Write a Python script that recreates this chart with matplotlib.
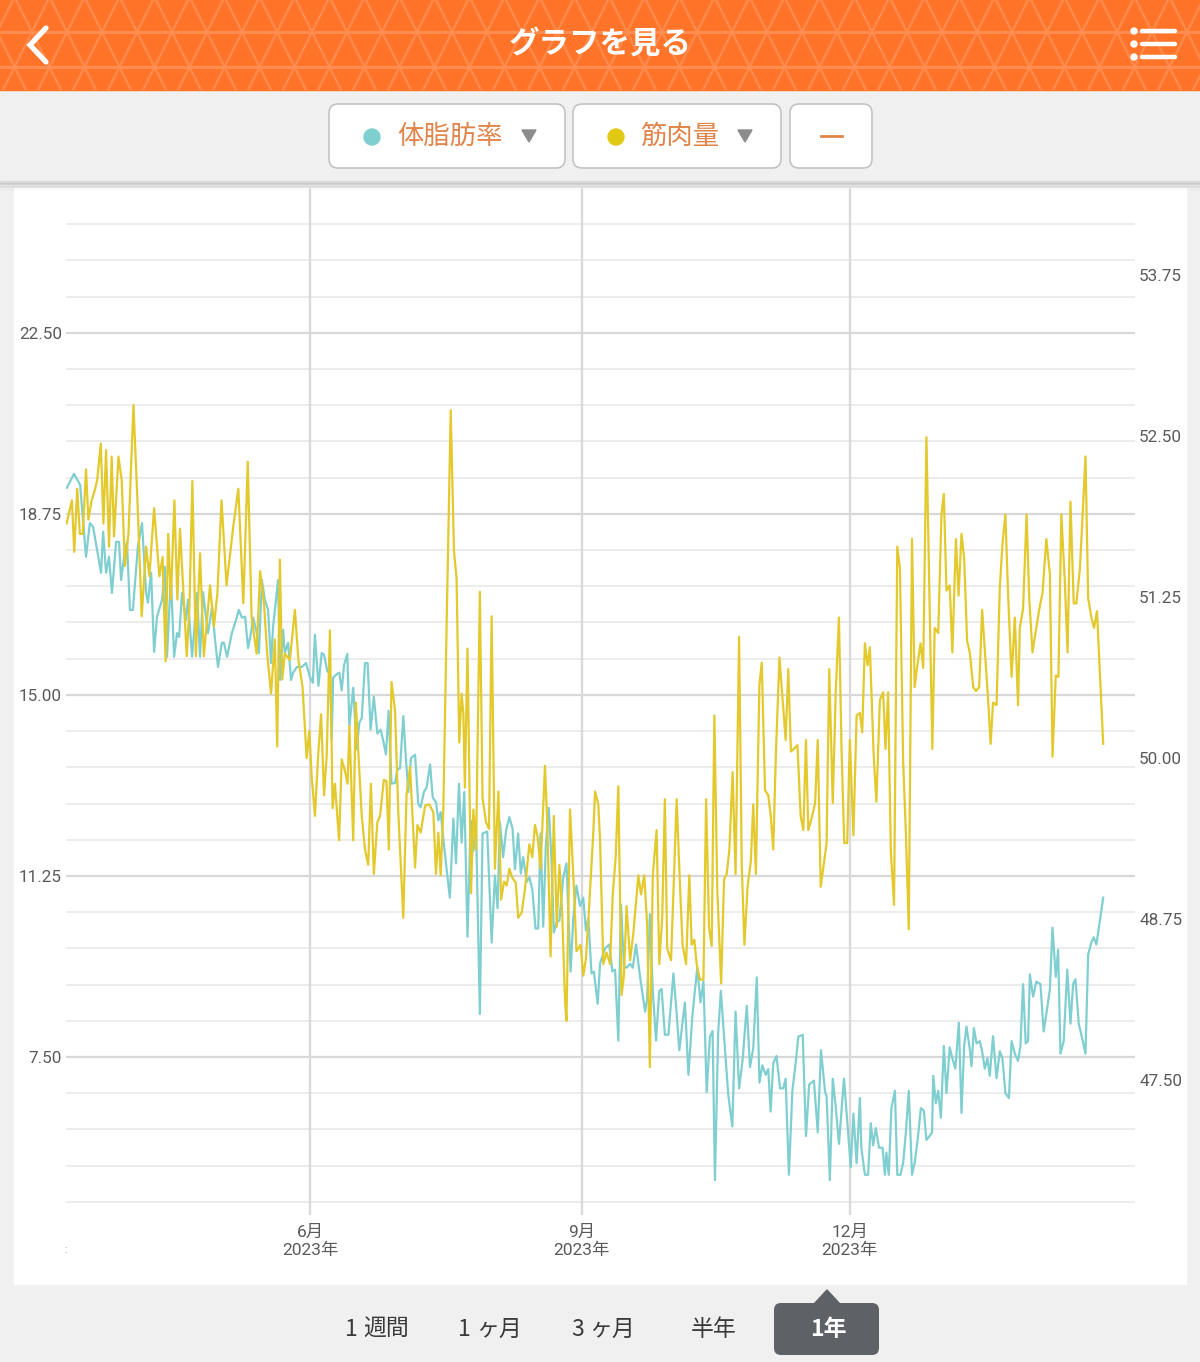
import datetime as dt
import numpy as np
import matplotlib
matplotlib.use('Agg')
import matplotlib.pyplot as plt
import matplotlib.dates as mdates
from matplotlib.patches import FancyBboxPatch, Rectangle, Polygon, Circle

plt.rcParams['font.family'] = ['Roboto', 'Noto Sans CJK JP', 'DejaVu Sans']

# data (days counted from 2023-03-10)
START = dt.datetime(2023, 3, 10)

fat_days = [
    0.3, 2.7, 4.8, 6.8, 8.1, 9.2, 11.9, 12.6, 13.6, 14.6, 15.6, 17.0, 18.0, 18.7, 19.7, 20.7,
    21.7, 22.7, 24.4, 25.8, 27.2, 27.8, 28.9, 29.9, 30.9, 32.6, 33.6, 34.3, 35.6, 36.7, 37.7,
    38.4, 39.4, 40.7, 41.4, 42.8, 44.5, 45.5, 46.5, 48.2, 49.6, 50.6, 51.6, 52.9, 53.6, 54.7,
    56.3, 57.7, 58.7, 59.7, 60.8, 61.8, 62.8, 63.5, 64.8, 65.5, 66.5, 67.5, 68.6, 69.6, 70.3,
    72.0, 72.7, 73.7, 74.3, 75.4, 76.4, 77.1, 78.4, 80.1, 81.5, 82.8, 83.8,
    84.5, 85.7, 86.8, 87.6, 88.7, 89.6, 90.2, 90.7, 91.9, 92.8, 93.6, 94.4, 95.5, 96.2, 97.5,
    98.7, 99.6, 100.4, 101.5, 102.4, 103.4, 104.5, 105.7, 106.8, 107.7, 108.6, 109.5, 110.5,
    111.7, 112.5, 113.4, 114.5, 115.4, 116.2, 117.1, 118.5, 119.6, 120.4, 121.5, 122.4, 123.6,
    124.5, 125.6, 126.4, 127.2, 128.1, 129.2, 130.3, 131.5, 132.4, 133.4, 134.3, 135.2, 136.3,
    137.4, 138.3, 139.2, 140.5, 141.4, 143.0, 144.5, 145.6, 146.5, 147.3, 148.4, 149.4, 150.5,
    151.6, 152.4, 153.5, 154.4, 155.2, 156.4, 157.3, 158.3, 159.4, 160.3, 161.1, 162.0, 162.9,
    163.9, 164.9, 165.6, 166.6, 167.5, 168.8, 169.9, 171.3, 172.2, 173.3, 174.5, 175.6, 176.5,
    177.3, 178.4, 179.2, 180.5, 181.3,
    183.0, 184.4, 185.5, 186.4, 187.5, 188.4, 189.4, 190.3, 191.5, 192.4, 193.5, 194.9, 196.6,
    197.3, 198.2, 199.2, 200.3, 201.4, 202.2, 203.3, 204.5, 206.2, 207.1, 208.2, 210.1, 211.3,
    212.7, 214.3, 215.4, 216.4, 217.5, 218.6, 219.5, 220.3, 221.4, 222.3, 223.7, 224.8, 226.2,
    227.3, 228.5, 229.7, 231.1, 232.2, 233.3, 234.5, 235.4, 236.4, 237.5, 238.4, 239.2, 240.1,
    241.2, 242.4, 243.5, 244.3, 245.4, 246.6, 247.7, 248.6, 250.1, 251.2, 252.3, 253.9, 255.2,
    256.3, 257.7, 258.2, 259.3, 260.3, 261.4, 262.4, 264.1, 265.2, 266.4, 267.3, 268.4, 269.5,
    270.0, 271.2, 272.3, 273.2, 274.0, 274.9, 276.0, 277.2, 278.0, 278.5, 279.3, 280.2, 281.4,
    282.2, 283.3, 284.2, 285.1, 286.1, 287.2, 288.1, 289.1, 290.2, 291.2, 292.1, 294.0, 294.4,
    295.3, 296.1, 297.0, 298.0, 298.9, 300.0, 300.9, 301.9, 303.1, 304.0, 304.9, 305.7, 306.8,
    307.4, 308.2, 309.1, 310.2, 311.0, 311.9, 312.8, 313.6, 314.7, 315.9, 317.0, 317.9, 318.9,
    320.1, 321.0, 322.1, 323.2, 324.0, 324.9, 325.8, 326.6, 327.2, 328.3, 329.4, 330.8, 331.9,
    332.8, 334.0, 334.9, 336.0, 336.8, 337.6, 338.7, 339.9, 341.0, 341.9, 342.7, 343.8, 345.0,
    346.1, 347.0, 348.1, 348.9, 349.8, 351.0, 352.1,
]
fat = [
    19.29, 19.58, 19.35, 17.86, 18.56, 18.48, 17.53, 18.38, 17.53, 17.86, 17.11, 18.17, 18.17,
    17.38, 17.86, 18.17, 16.76, 16.76, 18.07, 18.56, 17.11, 16.91, 17.53, 15.89, 16.62, 16.97,
    17.65, 15.79, 17.45, 15.79, 16.28, 16.20, 17.11, 16.55, 16.97, 15.79, 17.11, 15.79, 17.13,
    16.28, 16.82, 16.14, 15.58, 16.08, 16.08, 15.79, 16.28, 16.55, 16.76, 16.60, 16.62, 15.97,
    16.28, 16.60, 16.28, 15.87, 17.38, 16.97, 16.76, 15.66, 16.41, 17.38, 15.31, 16.35, 15.87,
    16.08, 15.31, 15.46, 15.58, 15.58, 15.66, 15.37, 15.25,
    16.25, 15.19, 15.87, 15.83, 15.49, 15.45, 14.09, 15.36, 15.43, 15.46, 15.09, 15.62, 15.85,
    14.35, 15.15, 13.88, 14.43, 14.52, 15.66, 15.66, 14.28, 14.96, 14.20, 14.28, 14.05, 13.77,
    14.67, 13.16, 13.18, 13.46, 13.48, 14.56, 13.67, 12.99, 13.69, 13.76, 12.74, 12.67, 12.99,
    13.08, 13.56, 12.87, 12.78, 12.40, 12.57, 12.02, 11.39, 10.80, 12.44, 11.51, 13.16, 11.94,
    12.99, 9.99, 12.40, 11.77, 12.28, 8.39, 12.13, 12.17, 9.87, 11.26, 10.58, 12.36, 11.64,
    12.19, 12.47, 12.23, 11.39, 12.13, 11.30, 11.64, 11.13, 11.22, 10.97, 10.16, 10.16, 12.13,
    10.20, 11.89, 12.66, 11.47, 10.08, 10.29, 10.33, 11.22, 11.51, 9.27, 10.37, 11.05, 10.63,
    10.80, 10.12, 10.37, 9.23, 9.27, 8.60, 9.44,
    9.75, 9.83, 9.27, 9.31, 7.84, 10.66, 9.39, 9.35, 9.43, 9.35, 9.83, 9.15, 8.44, 8.71, 10.46,
    8.87, 7.84, 8.87, 8.91, 7.96, 7.96, 9.23, 8.56, 7.64, 8.63, 7.13, 8.40, 9.35, 8.63, 9.07,
    6.77, 7.92, 8.04, 4.95, 8.00, 8.87, 7.68, 6.73, 6.06, 8.44, 6.85, 7.44, 8.56, 7.29, 7.68,
    9.15, 6.97, 7.33, 7.13, 7.25, 6.37, 7.37, 7.52, 6.85, 6.85, 7.05, 5.06, 6.81, 7.37, 7.92,
    7.96, 5.86, 6.93, 7.01, 5.94, 7.64, 6.77, 6.69, 4.95, 7.05, 6.41, 5.70, 7.05, 6.18, 5.22,
    6.33, 5.30, 6.65,
    5.62, 5.06, 5.06, 6.13, 5.67, 6.03, 5.62, 5.62, 5.06, 5.52, 5.06, 6.44, 6.80, 5.06, 5.06,
    5.31, 5.93, 6.80, 5.06, 5.31, 5.78, 6.44, 6.39, 5.78, 5.93, 7.11, 6.54, 6.80, 6.24, 7.73,
    6.75, 7.70, 7.47, 7.26, 8.21, 6.34, 7.73, 8.13, 7.67, 7.31, 8.10, 7.78, 7.83, 7.62, 7.26,
    7.47, 7.11, 7.93, 7.06, 7.62, 7.47, 6.75, 6.65, 7.83, 7.57, 7.42, 7.73, 9.01, 7.78, 7.83,
    9.21, 8.75, 9.06, 9.01, 8.03, 8.39, 8.90, 10.18, 9.16, 9.72, 7.57, 7.83, 9.31, 8.19, 9.01,
    9.11, 8.19, 7.88, 7.57, 9.62, 9.88, 9.98, 9.83, 10.34, 10.80,
]

muscle_days = [
    0.2, 2.0, 2.8, 3.8, 4.7, 5.7, 6.8, 7.6, 8.7, 9.8, 10.6, 11.8, 12.7, 13.6, 14.6, 15.5, 16.3,
    17.8, 18.9, 20.0, 21.2, 22.9, 24.2, 25.7, 27.2, 28.3, 29.9, 31.7, 32.8, 33.8, 34.7, 35.6,
    36.8, 37.8, 38.7, 39.8, 41.0, 41.9, 42.9, 44.1, 45.5, 46.8, 48.0, 48.9, 50.2, 51.4, 52.8,
    54.5, 56.8, 58.5, 60.2, 61.7, 63.0, 64.7, 65.9, 67.2, 68.3, 69.6, 70.9, 71.7, 72.6, 73.4,
    74.3, 76.0, 77.7, 78.9, 80.3, 81.7, 82.6, 83.4,
    84.5, 85.6, 86.6, 87.6, 88.5, 89.6, 90.5, 91.3, 92.7, 93.6, 94.7, 95.6, 96.2, 97.5, 98.4,
    99.2, 100.4, 101.5, 102.6, 103.5, 104.5, 105.7, 106.6, 107.9, 108.8, 109.6, 110.5, 111.7,
    112.8, 114.5, 115.6, 116.8, 118.5, 119.3, 120.4, 121.9, 123.3, 124.7, 125.6, 126.4, 127.2,
    128.1, 129.2, 130.6, 131.7, 132.6, 133.5, 134.3, 134.9, 135.4, 136.3, 137.5, 138.3, 139.2,
    140.5, 141.4, 142.6, 143.6, 144.5, 145.6, 146.8, 147.7, 148.7, 149.6, 150.5, 151.5, 152.7,
    153.5, 154.7, 155.8, 157.3, 158.3, 159.2, 160.1, 161.1, 162.6, 163.4, 164.5, 165.6, 166.6,
    167.5, 168.4, 169.4, 169.9, 171.1, 172.2, 173.3, 174.7, 175.6, 176.5, 177.6, 179.0, 179.6,
    180.7, 181.3,
    182.4, 183.5, 184.7, 185.6, 186.6, 187.5, 188.6, 189.4, 190.3, 191.5, 192.6, 194.3, 195.2,
    196.3, 197.3, 198.2, 199.2, 200.5, 201.4, 202.4, 203.3, 204.1, 205.4, 207.3, 208.4, 209.3,
    210.5, 211.6, 212.4, 213.3, 214.1, 215.2, 216.4, 217.3, 218.3, 219.2, 220.1, 221.1, 222.4,
    223.4, 224.3, 225.2, 226.3, 227.3, 228.5, 229.4, 230.3, 231.4, 232.5, 233.3, 234.2, 235.4,
    236.2, 237.3, 238.4, 239.2, 240.1, 241.0, 242.2, 243.3, 244.3, 245.2, 246.1, 247.5, 248.3,
    249.4, 250.3, 251.2, 252.0, 253.1, 254.3, 255.2, 256.2, 257.1, 258.2, 259.1, 260.3, 261.3,
    262.4, 263.3, 264.2, 265.2, 266.1, 267.3, 268.4, 269.5,
    270.3, 271.2, 272.1, 272.9, 274.2, 275.1, 276.3, 277.4, 278.2, 279.1, 280.0, 281.1, 282.2,
    283.1, 284.2, 285.1, 286.1, 287.2, 288.1, 288.9, 290.1, 291.0, 292.1, 294.1, 294.9, 296.1,
    297.2, 298.0, 298.9, 300.0, 300.9, 302.1, 303.0, 304.0, 304.9, 305.9, 306.8, 308.0, 308.9,
    310.0, 311.0, 312.3, 313.0, 313.9, 314.7, 315.9, 317.0, 317.9, 318.9, 319.8, 321.0, 322.1,
    323.2, 323.8, 324.9, 326.1, 327.0, 328.1, 329.1, 330.6, 331.5, 332.8, 334.0, 334.9, 336.0,
    336.9, 337.9, 339.1, 340.0, 341.0, 342.1, 343.0, 344.2, 346.1, 347.0, 348.1, 349.0, 350.0,
    350.9, 352.1,
]
muscle = [
    51.82, 52.00, 51.60, 52.09, 51.74, 51.74, 52.24, 51.85, 52.00, 52.08, 52.16, 52.44, 51.82,
    52.39, 51.64, 52.34, 51.72, 52.34, 52.16, 51.49, 51.74, 52.74, 52.03, 51.10, 51.64, 51.41,
    51.94, 51.41, 51.56, 50.75, 51.74, 51.23, 52.00, 51.23, 51.78, 51.30, 50.79, 51.18, 52.15,
    50.79, 51.59, 50.79, 51.10, 51.34, 51.02, 51.28, 52.00, 51.34, 51.80, 52.09, 51.20, 52.30,
    51.10, 50.81, 51.45, 51.20, 50.81, 50.50, 50.92, 50.09, 51.54, 50.61, 50.81, 50.76, 51.15,
    50.76, 50.55, 50.00, 50.21, 49.86,
    49.55, 50.02, 50.34, 49.71, 50.02, 50.99, 49.61, 49.80, 49.36, 49.99, 49.90, 49.80, 50.25,
    49.36, 50.43, 50.06, 49.55, 49.29, 49.17, 49.80, 49.10, 49.50, 49.55, 49.83, 49.82, 49.29,
    50.59, 50.37, 49.58, 48.76, 49.71, 49.93, 49.15, 49.48, 49.42, 49.63, 49.64, 49.58, 49.10,
    49.42, 49.09, 49.61, 51.02, 52.70, 51.61, 51.39, 50.12, 50.50, 50.34, 49.77, 50.85, 48.95,
    49.60, 49.29, 51.29, 49.69, 49.50, 49.45, 51.10, 49.14, 49.74, 48.90, 49.04, 49.01, 49.14,
    49.07, 49.03, 48.76, 48.80, 48.98, 49.33, 49.23, 49.48, 49.39, 49.14, 49.94, 49.48, 48.46,
    49.55, 48.69, 49.17, 48.82, 48.12, 47.96, 49.60, 49.10, 48.50, 48.55, 48.31, 48.44, 48.85,
    49.42, 49.74, 49.64, 49.36,
    48.40, 48.49, 48.40, 48.94, 49.23, 49.78, 48.16, 48.31, 48.85, 48.43, 48.64, 49.09, 48.94,
    49.09, 48.70, 47.60, 49.09, 49.44, 48.40, 48.76, 49.68, 48.52, 48.43, 49.68, 49.03, 48.55,
    48.40, 49.09, 48.55, 48.59, 48.40, 48.28, 48.28, 49.68, 48.68, 48.54, 50.33, 48.97, 48.25,
    49.06, 49.10, 49.29, 49.89, 49.10, 50.94, 49.17, 48.55, 49.01, 49.20, 49.64, 49.10, 50.57,
    50.74, 49.75, 49.71, 49.56, 49.29, 50.04, 50.78, 50.44, 50.14, 50.69, 50.05, 50.08, 50.10,
    49.55, 49.44, 50.14, 49.44, 49.53, 49.65, 50.14, 49.00, 49.15, 49.34, 50.69, 49.65, 50.51,
    51.09, 50.04, 49.34, 49.34, 50.14, 49.40, 50.33, 50.35,
    50.20, 50.89, 50.72, 50.86, 50.01, 49.66, 50.45, 50.51, 50.07, 50.51, 49.28, 48.86, 51.64,
    51.47, 49.97, 49.43, 48.67, 51.70, 50.55, 50.70, 50.89, 50.70, 52.49, 50.07, 51.01, 50.97,
    51.89, 52.05, 51.30, 51.34, 50.82, 51.70, 51.26, 51.74, 51.55, 50.91, 50.82, 50.55, 50.52,
    50.55, 51.15, 50.70, 50.47, 50.11, 50.43, 50.41, 51.32, 51.66, 51.89, 51.28, 50.63, 51.09,
    50.41, 51.01, 51.16, 51.89, 51.24, 50.82, 50.97, 51.18, 51.28, 51.70, 51.43, 50.01, 50.64,
    50.63, 51.89, 51.36, 50.82, 51.99, 51.20, 51.20, 51.47, 52.34, 51.24, 51.09, 51.01, 51.14,
    50.70, 50.11,
]

month_ticks = [dt.datetime(2023, 6, 1), dt.datetime(2023, 9, 1), dt.datetime(2023, 12, 1)]
month_labels = ['6月\n2023年', '9月\n2023年', '12月\n2023年']
fat_ticks = [7.5, 11.25, 15.0, 18.75, 22.5]
muscle_ticks = [47.5, 48.75, 50.0, 51.25, 52.5, 53.75]
period_num = ['1', '1', '3', '']
period_word = ['週間', 'ヶ月', 'ヶ月', '半年']

CYAN = '#80cfd0'
YELLOW = '#e3c92c'
ORANGE = '#ff7428'
TXT = '#5a5a5a'

W, H = 1200, 1362
fig = plt.figure(figsize=(W / 100, H / 100), dpi=100)

# ---- page chrome, drawn in pixel coordinates ----
bg = fig.add_axes([0, 0, 1, 1])
bg.set_xlim(0, W)
bg.set_ylim(H, 0)
bg.axis('off')
bg.add_patch(Rectangle((0, 0), W, H, color='#f0f0f0', zorder=0))
bg.add_patch(Rectangle((14, 188), 1172, 1096, color='white', zorder=1))

# header with triangle lattice, clipped to the bar
header = Rectangle((0, 0), W, 90, color=ORANGE, zorder=2)
bg.add_patch(header)
yy = np.array([-5.0, 95.0])
for k in range(-5, 40):
    xc = 67 + 35 * k
    for sgn in (1, -1):
        ln, = bg.plot(xc + sgn * (yy - 32) / 2, yy, color='#ff8f55', lw=1.8, alpha=0.8,
                      zorder=3)
        ln.set_clip_path(header)
for yb in [32, 67]:
    bg.plot([0, W], [yb, yb], color='#ff8f55', lw=2.2, alpha=0.9, zorder=3)
bg.set_xlim(0, W)
bg.set_ylim(H, 0)
bg.text(600, 44, 'グラフを見る', fontsize=22, fontweight='bold', color='white',
        ha='center', va='center', family='Noto Sans CJK JP', zorder=4)
bg.plot([46, 30, 46], [28, 45, 62], color='white', lw=3.8, solid_capstyle='round',
        solid_joinstyle='miter', zorder=4)
for yv in [31, 44, 57]:
    bg.add_patch(Circle((1134, yv), 3, color='white', zorder=4))
    bg.plot([1142, 1175], [yv, yv], color='white', lw=3.2, solid_capstyle='round', zorder=4)

# soft shadow under the selector bar
for i, a in enumerate([0.06, 0.045, 0.03, 0.02, 0.01]):
    bg.add_patch(Rectangle((0, 181 + i * 1.6), W, 1.6, color='black', alpha=a, zorder=2))


def button(x0, x1, fc='white'):
    bg.add_patch(FancyBboxPatch((x0, 104), x1 - x0, 64,
                                boxstyle='round,pad=0,rounding_size=9',
                                fc=fc, ec='#c3c3c3', lw=1.2, zorder=3))


button(329, 565)
button(573, 781)
button(790, 872)
bg.add_patch(Circle((372, 137), 8, color=CYAN, zorder=4))
bg.text(397, 136, '体脂肪率', fontsize=19, color='#e0844a', va='center', ha='left',
        family='Noto Sans CJK JP', zorder=4)
bg.add_patch(Polygon([(522, 130), (536, 130), (529, 142)], color='#8c8c8c', zorder=4))
bg.add_patch(Circle((616, 137), 8, color='#e2c916', zorder=4))
bg.text(640, 136, '筋肉量', fontsize=19, color='#e0844a', va='center', ha='left',
        family='Noto Sans CJK JP', zorder=4)
bg.add_patch(Polygon([(738, 130), (752, 130), (745, 142)], color='#8c8c8c', zorder=4))
bg.plot([821, 842], [136, 136], color='#e0844a', lw=2, zorder=4)

# period selector
for num, word, xl in zip(period_num, period_word, [345, 458, 571, 691]):
    xw = xl
    if num:
        bg.text(xl, 1329, num, fontsize=16.5, color='#3a3a3a', ha='left', va='center',
                family='Noto Sans CJK JP', zorder=4)
        xw = xl + 18
    bg.text(xw, 1329, word, fontsize=16.5, color='#3a3a3a', ha='left', va='center',
            family='Noto Sans CJK JP', zorder=4)
bg.add_patch(FancyBboxPatch((774, 1303), 105, 52, boxstyle='round,pad=0,rounding_size=7',
                            fc='#5e6165', ec='none', zorder=3))
bg.add_patch(Polygon([(814, 1304), (827, 1290), (840, 1304)], color='#5e6165', zorder=3))
bg.text(828, 1329, '1年', fontsize=16.5, fontweight='bold', color='white', ha='center',
        va='center', family='Noto Sans CJK JP', zorder=4)
bg.text(66, 1250, ':', fontsize=8, color='#9a9a9a', ha='center', va='center', zorder=4)

# ---- chart ----
ax = fig.add_axes([66 / W, 1 - 1215 / H, (1135 - 66) / W, (1215 - 188) / H])
ax.patch.set_alpha(0)
x0 = mdates.date2num(START)
ax.set_xlim(x0, x0 + 362.9)
ax.set_ylim(4.227, 25.50)

for v in np.arange(4.5, 24.76, 0.75):
    major = abs((v - 7.5) / 3.75 - round((v - 7.5) / 3.75)) < 1e-6
    ax.axhline(v, color='#d8d8d8' if major else '#ececec', lw=1.6 if major else 1.4, zorder=1)
for d in month_ticks:
    ax.axvline(mdates.date2num(d), color='#d9d9d9', lw=1.6, zorder=1)

ax.plot(x0 + np.array(fat_days), fat, color=CYAN, lw=1.6, zorder=3)

ax.set_xticks(mdates.date2num(month_ticks))
ax.set_xticklabels(month_labels)
for t in ax.get_xticklabels():
    t.set_linespacing(1.25)
ax.tick_params(axis='x', length=0, pad=7, labelsize=12.5, labelcolor=TXT)
ax.set_yticks(fat_ticks)
ax.set_yticklabels([f'{v:.2f}' for v in fat_ticks])
ax.tick_params(axis='y', length=0, pad=3, labelsize=12.3, labelcolor=TXT)

ax2 = ax.twinx()
ax2.set_ylim(46.452, 54.425)
ax2.plot(x0 + np.array(muscle_days), muscle, color=YELLOW, lw=1.6, zorder=3)
ax2.set_yticks(muscle_ticks)
ax2.set_yticklabels([f'{v:.2f}' for v in muscle_ticks])
ax2.tick_params(axis='y', length=0, pad=3, labelsize=12.3, labelcolor=TXT)

for a in (ax, ax2):
    for s in a.spines.values():
        s.set_visible(False)

fig.savefig('out.png', dpi=100)
